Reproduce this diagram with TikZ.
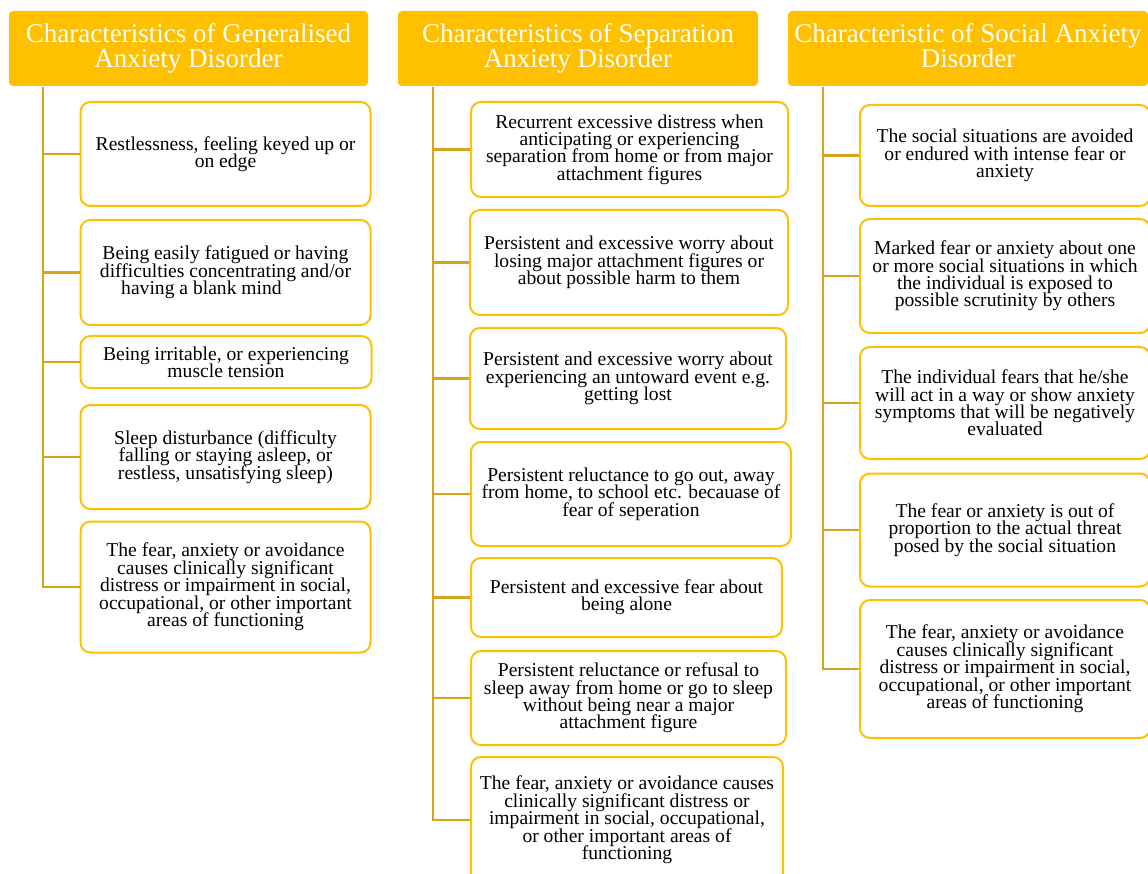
\documentclass[tikz,border=0pt]{standalone}
\usepackage{fontspec}
\setmainfont{Liberation Serif}
\definecolor{gold}{RGB}{255,192,0}
\definecolor{linkgold}{RGB}{214,164,28}
% fixed line pitch: never let \lineskip push lines apart
\newcommand\headfont{\fontsize{27}{24.5}\selectfont\lineskiplimit=-30pt\relax}
\newcommand\itemfont{\fontsize{19.6}{17.4}\selectfont\lineskiplimit=-30pt\relax}
\begin{document}
\begin{tikzpicture}[x=1pt,y=-1pt,
  header/.style={fill=gold, draw=none, rounded corners=4pt, inner sep=0pt,
    text=white, align=center, font=\headfont},
  item/.style={draw=gold, line width=2pt, fill=white, rounded corners=10pt,
    inner sep=0pt, align=center, font=\itemfont},
  conn/.style={draw=linkgold, line width=2.4pt}]
\clip (0,0) rectangle (1148,874);
\fill[white] (0,0) rectangle (1148,874);

% ---- Generalised anxiety disorder ----
\node[header, minimum width=359pt, minimum height=75pt] (hg) at (188.5,48.5)
  {Characteristics of Generalised\\Anxiety Disorder};
\coordinate (g0) at (43,87);
\node[item, minimum width=290pt, minimum height=104pt] (g1) at (225.5,154)
  {Restlessness, feeling keyed up or\\on edge};
\node[item, minimum width=290pt, minimum height=105pt] (g2) at (225.5,272.5)
  {Being easily fatigued or having\\difficulties concentrating and/or\\having a blank mind\hspace*{48pt}};
\node[item, minimum width=291pt, minimum height=52pt] (g3) at (226,362)
  {Being irritable, or experiencing\\muscle tension};
\node[item, minimum width=290pt, minimum height=104pt] (g4) at (225.5,457)
  {Sleep disturbance (difficulty\\falling or staying asleep, or\\restless, unsatisfying sleep)};
\node[item, minimum width=290pt, minimum height=131pt] (g5) at (225.5,587)
  {The fear, anxiety or avoidance\\causes clinically significant\\distress or impairment in social,\\occupational, or other important\\areas of functioning};
\draw[conn] (g0) |- (g5.west);
\foreach \n in {g1,g2,g3,g4} \draw[conn] (\n.west) -- (\n.west -| g0);

% ---- Separation anxiety disorder ----
\node[header, minimum width=360pt, minimum height=75pt] (hs) at (578,48.5)
  {Characteristics of Separation\\Anxiety Disorder};
\coordinate (s0) at (433,87);
\node[item, minimum width=317pt, minimum height=95pt] (s1) at (629.5,149.5)
  {Recurrent excessive distress when\\anticipating or experiencing\\separation from home or from major\\attachment figures};
\node[item, minimum width=318pt, minimum height=105pt] (s2) at (629,262.5)
  {Persistent and excessive worry about\\losing major attachment figures or\\about possible harm to them};
\node[item, minimum width=316pt, minimum height=101pt] (s3) at (628,378.5)
  {Persistent and excessive worry about\\experiencing an untoward event e.g.\\getting lost};
\node[item, minimum width=320pt, minimum height=104pt] (s4) at (631,494)
  {Persistent reluctance to go out, away\\from home, to school etc. becauase of\\fear of seperation};
\node[item, minimum width=311pt, minimum height=79pt] (s5) at (626.5,597.5)
  {Persistent and excessive fear about\\being alone};
\node[item, minimum width=315pt, minimum height=94pt] (s6) at (628.5,698)
  {Persistent reluctance or refusal to\\sleep away from home or go to sleep\\without being near a major\\attachment figure};
\node[item, minimum width=312pt, minimum height=126pt] (s7) at (627,820)
  {The fear, anxiety or avoidance causes\\clinically significant distress or\\impairment in social, occupational,\\or other important areas of\\functioning};
\draw[conn] (s0) |- (s7.west);
\foreach \n in {s1,s2,s3,s4,s5,s6} \draw[conn] (\n.west) -- (\n.west -| s0);

% ---- Social anxiety disorder ----
\node[header, minimum width=360pt, minimum height=75pt] (ho) at (968,48.5)
  {Characteristic of Social Anxiety\\Disorder\vphantom{y}};
\coordinate (o0) at (823,87);
\node[item, minimum width=290pt, minimum height=101pt] (o1) at (1005,155.5)
  {The social situations are avoided\\or endured with intense fear or\\anxiety};
\node[item, minimum width=290pt, minimum height=114pt] (o2) at (1005,276)
  {Marked fear or anxiety about one\\or more social situations in which\\the individual is exposed to\\possible scrutinity by others};
\node[item, minimum width=290pt, minimum height=112pt] (o3) at (1005,403)
  {The individual fears that he/she\\will act in a way or show anxiety\\symptoms that will be negatively\\evaluated};
\node[item, minimum width=290pt, minimum height=113pt] (o4) at (1005,530)
  {The fear or anxiety is out of\\proportion to the actual threat\\posed by the social situation};
\node[item, minimum width=290pt, minimum height=138pt] (o5) at (1005,669)
  {The fear, anxiety or avoidance\\causes clinically significant\\distress or impairment in social,\\occupational, or other important\\areas of functioning};
\draw[conn] (o0) |- (o5.west);
\foreach \n in {o1,o2,o3,o4} \draw[conn] (\n.west) -- (\n.west -| o0);
\end{tikzpicture}
\end{document}
